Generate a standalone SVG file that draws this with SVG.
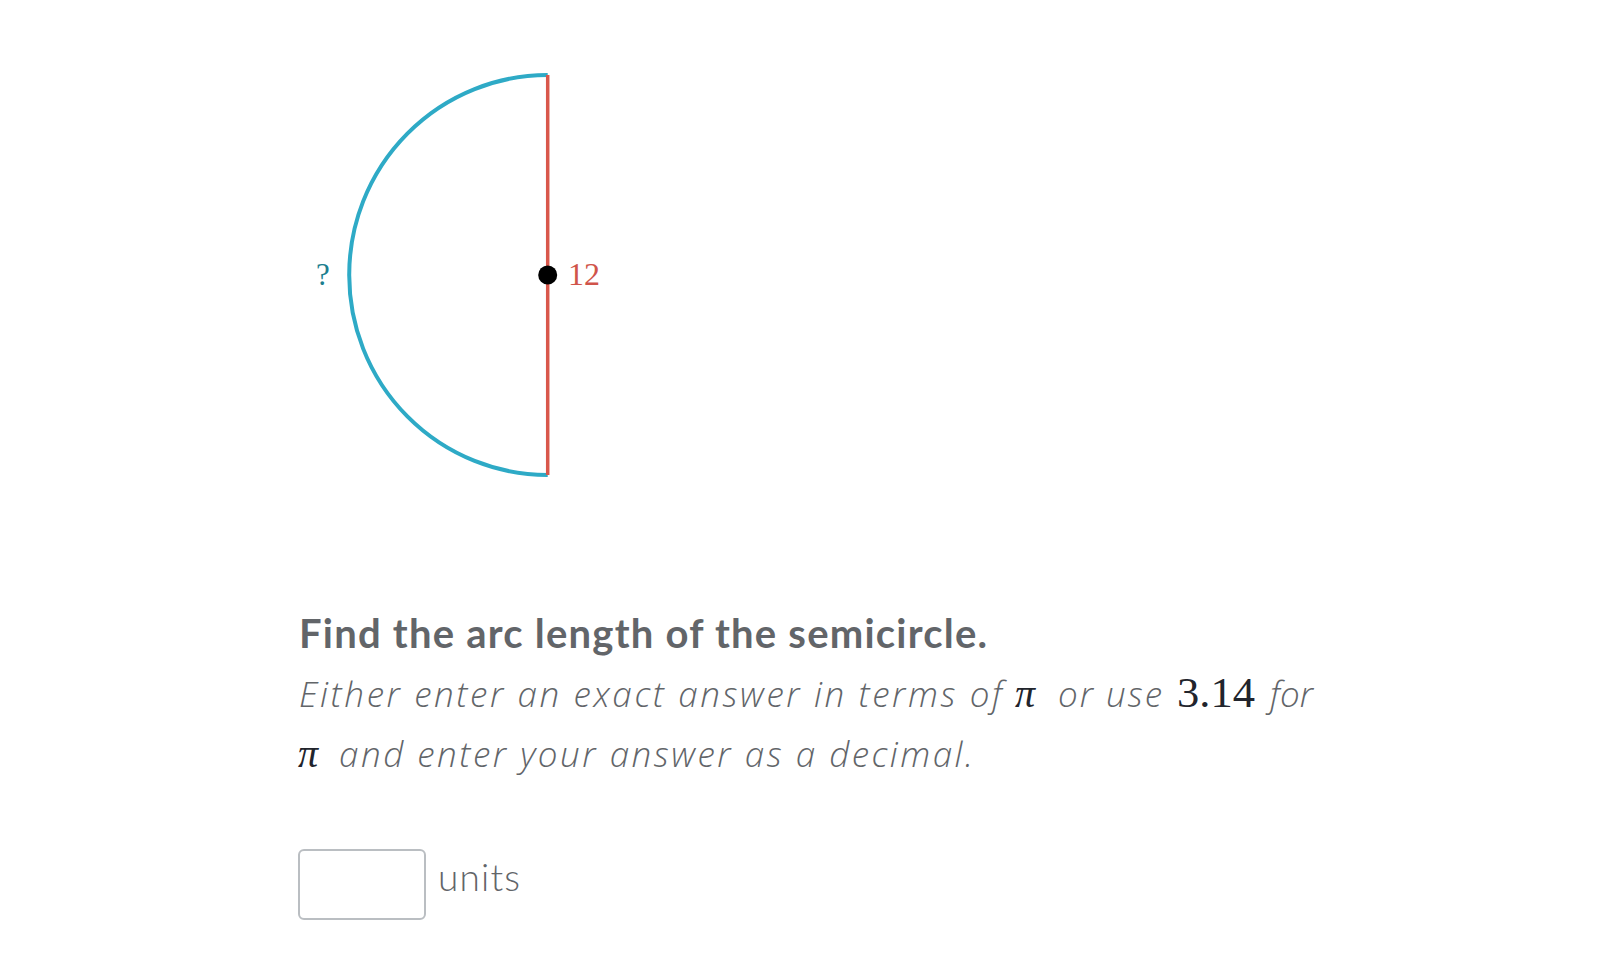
<svg xmlns="http://www.w3.org/2000/svg" width="1620" height="956" viewBox="0 0 1620 956">
<style>
.q{font-family:Lato,"Liberation Sans",sans-serif;fill:#626569}
.b{font-weight:700;font-size:40px}
.i{font-family:"Open Sans",Lato,sans-serif;font-style:italic;font-weight:300;font-size:35px}
.m{font-family:"Liberation Serif","DejaVu Serif",serif;fill:#21242c}
</style>
<rect width="1620" height="956" fill="#ffffff"/>
<g id="semicircle">
<path d="M547.7,75 A198.5,200 0 0 0 547.7,475" fill="none" stroke="#2eaac6" stroke-width="4"/>
<line x1="547.7" y1="75" x2="547.7" y2="475" stroke="#d9574b" stroke-width="3.5"/>
<circle cx="547.7" cy="275" r="9.5" fill="#000"/>
<text x="568" y="285" font-family="Liberation Serif,serif" font-size="32" fill="#d0544a">12</text>
<text x="316" y="285" font-family="Liberation Serif,serif" font-size="31" fill="#1d7f8f">?</text>
</g>
<g id="question">
<text class="q b" x="299" y="648" textLength="688" lengthAdjust="spacing">Find the arc length of the semicircle.</text>
<text class="q i" x="299" y="707" textLength="703" lengthAdjust="spacing">Either enter an exact answer in terms of</text>
<text class="m" x="1015" y="707" font-size="40" font-style="italic">π</text>
<text class="q i" x="1058" y="707" textLength="104" lengthAdjust="spacing">or use</text>
<text class="m" x="1177" y="707" font-size="43" textLength="78" lengthAdjust="spacingAndGlyphs">3.14</text>
<text class="q i" x="1270" y="707" textLength="43" lengthAdjust="spacing">for</text>
<text class="m" x="298" y="767" font-size="40" font-style="italic">π</text>
<text class="q i" x="339" y="767" textLength="634" lengthAdjust="spacing">and enter your answer as a decimal.</text>
</g>
<g id="answer">
<rect x="299" y="850" width="126" height="69" rx="5" fill="#fff" stroke="#babec2" stroke-width="2"/>
<text class="q" x="438" y="891" font-size="37" font-weight="300" textLength="82" lengthAdjust="spacing">units</text>
</g>
</svg>
